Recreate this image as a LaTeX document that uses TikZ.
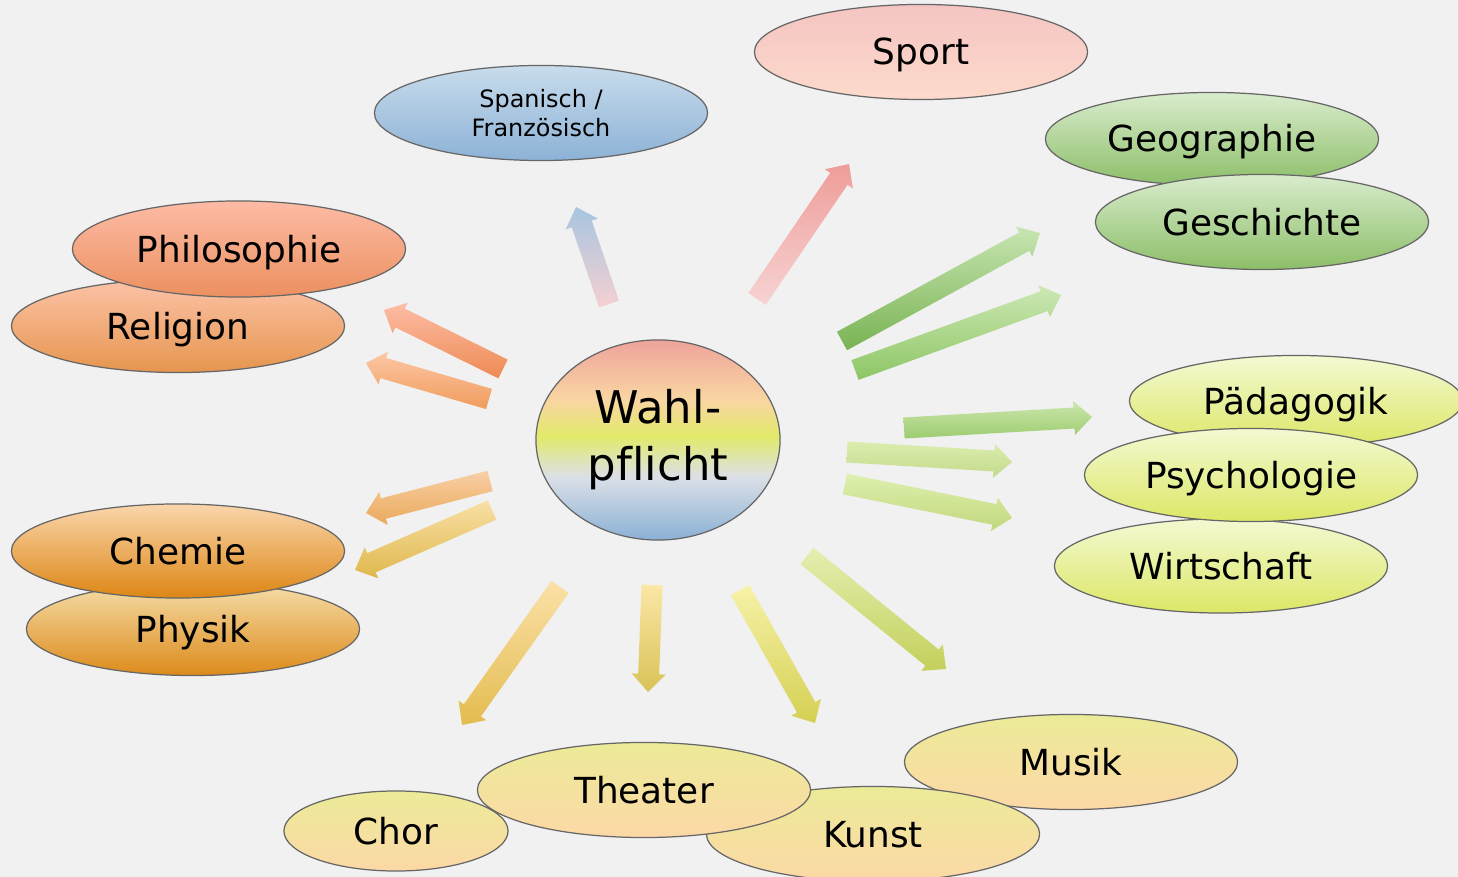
\documentclass[tikz,border=0pt]{standalone}
\usepackage{fontspec}
\setmainfont{DejaVu Sans}[Ligatures=NoCommon]
\usetikzlibrary{shapes.geometric,calc}
\definecolor{bg}{HTML}{F1F1F1}
\definecolor{wB}{HTML}{8AB1D6}
\definecolor{wL}{HTML}{DCE0E6}
\definecolor{wY}{HTML}{E2EA6A}
\definecolor{wP}{HTML}{F9D6A2}
\definecolor{wR}{HTML}{EEA39B}
\definecolor{spanT}{HTML}{C8DCEC}\definecolor{spanB}{HTML}{8DB2D6}
\definecolor{sportT}{HTML}{F5C4C2}\definecolor{sportB}{HTML}{FCDACB}
\definecolor{geoT}{HTML}{D9ECCD}\definecolor{geoB}{HTML}{8CBE68}
\definecolor{philT}{HTML}{FDBBA5}\definecolor{philB}{HTML}{EC9060}
\definecolor{relT}{HTML}{FCC3A8}\definecolor{relB}{HTML}{E6954E}
\definecolor{chemT}{HTML}{FAD6AC}\definecolor{chemB}{HTML}{DC8614}
\definecolor{physT}{HTML}{F6DEAA}\definecolor{physB}{HTML}{DC8A1A}
\definecolor{yelT}{HTML}{F4F9D2}\definecolor{yelB}{HTML}{DCE766}
\definecolor{musT}{HTML}{ECEB98}\definecolor{musB}{HTML}{FCD8A6}
\pgfdeclareverticalshading{wahlshade}{100bp}{color(0bp)=(wB); color(25bp)=(wB); color(41bp)=(wL); color(51bp)=(wY); color(60bp)=(wP); color(75bp)=(wR); color(100bp)=(wR)}
\newcommand{\blockarrow}[4]{%
  \definecolor{arT}{HTML}{#3}\definecolor{arB}{HTML}{#4}%
  \coordinate (#1h) at ($(#2)!0.18cm!(#1)$);
  \path[top color=arT,bottom color=arB]
    ($(#1)!0.105cm!90:(#2)$) -- ($(#1h)!0.105cm!90:(#2)$) -- ($(#1h)!0.17cm!90:(#2)$)
    -- (#2) -- ($(#1h)!0.17cm!-90:(#2)$) -- ($(#1h)!0.105cm!-90:(#2)$)
    -- ($(#1)!0.105cm!-90:(#2)$) -- cycle;}
\tikzset{
  ellbase/.style={ellipse, draw=black!60, line width=0.35pt, inner sep=0pt,
    minimum width=3.33cm, minimum height=0.94cm},
  ell/.style 2 args={ellbase, top color=#1, bottom color=#2,
    font=\fontsize{10.2}{12}\selectfont, text height=7.4pt, text depth=0pt},
}
\begin{document}
\begin{tikzpicture}[x=0.01cm,y=-0.01cm]
\useasboundingbox (0,0) rectangle (1458,877);
\clip (0,0) rectangle (1458,877);
\fill[bg] (0,0) rectangle (1458,877);

% arrow coordinates (tail / tip)
\coordinate (a1s) at (609,304);  \coordinate (a1e) at (576,207);
\coordinate (a2s) at (757,299);  \coordinate (a2e) at (849,164);
\coordinate (a3s) at (503,369);  \coordinate (a3e) at (384,310);
\coordinate (a4s) at (489,399);  \coordinate (a4e) at (366,363);
\coordinate (a5s) at (490,481);  \coordinate (a5e) at (366,513);
\coordinate (a6s) at (492,510);  \coordinate (a6e) at (355,570);
\coordinate (a7s) at (560,587);  \coordinate (a7e) at (462,725);
\coordinate (a8s) at (652,585);  \coordinate (a8e) at (648,692);
\coordinate (a9s) at (740,590);  \coordinate (a9e) at (815,723);
\coordinate (a10s) at (807,556); \coordinate (a10e) at (946,669);
\coordinate (a11s) at (845,484); \coordinate (a11e) at (1012,518);
\coordinate (a12s) at (847,452); \coordinate (a12e) at (1012,462);
\coordinate (a13s) at (904,428); \coordinate (a13e) at (1092,417);
\coordinate (a14s) at (855,370); \coordinate (a14e) at (1061,295);
\coordinate (a15s) at (842,341); \coordinate (a15e) at (1040,233);

\blockarrow{a1s}{a1e}{A7C5E0}{F5D0D2}
\blockarrow{a2s}{a2e}{EE9D99}{F7D3D3}
\blockarrow{a3s}{a3e}{FDBDA6}{EE8A52}
\blockarrow{a4s}{a4e}{FCC7A6}{F09C5C}
\blockarrow{a5s}{a5e}{F9CFA6}{E9A95A}
\blockarrow{a6s}{a6e}{F9E0A5}{DFB84C}
\blockarrow{a7s}{a7e}{FBE1A8}{E3BC4F}
\blockarrow{a8s}{a8e}{FBE7A6}{D9C256}
\blockarrow{a9s}{a9e}{F7F2A8}{D4D052}
\blockarrow{a10s}{a10e}{E5EEB0}{C3D05A}
\blockarrow{a11s}{a11e}{DEF0B0}{C1D77A}
\blockarrow{a12s}{a12e}{DBEDAF}{C4DA8C}
\blockarrow{a13s}{a13e}{CBE6AC}{9DCC70}
\blockarrow{a14s}{a14e}{CDE8B5}{8DC664}
\blockarrow{a15s}{a15e}{C8E5B2}{78B352}

% ellipses
\node[ellbase, top color=spanT, bottom color=spanB, minimum height=0.95cm,
  align=center, font=\fontsize{6.8}{8.2}\selectfont] (span) at (541,113) {Spanisch /\\Französisch};
\node[ell={sportT}{sportB}, minimum height=0.95cm] (sport) at (921,52) {Sport};
\node[ell={geoT}{geoB}, minimum height=0.93cm] (geo) at (1212,139) {Geographie};
\node[ell={geoT}{geoB}, minimum height=0.95cm] (gesch) at (1262,222) {Geschichte};
\node[ell={relT}{relB}, minimum height=0.93cm] (rel) at (178,326) {Religion};
\node[ell={philT}{philB}, minimum height=0.96cm] (phil) at (239,249) {Philosophie};
\node[ell={physT}{physB}, minimum height=0.93cm] (phys) at (193,629) {Physik};
\node[ell={chemT}{chemB}, minimum height=0.94cm] (chem) at (178,551) {Chemie};
\node[ell={yelT}{yelB}, minimum height=0.91cm] (paed) at (1296,401) {Pädagogik};
\node[ell={yelT}{yelB}, minimum height=0.94cm] (wirt) at (1221,566) {Wirtschaft};
\node[ell={yelT}{yelB}, minimum height=0.93cm] (psych) at (1251,475) {Psychologie};
\node[ell={musT}{musB}, minimum height=0.95cm] (musik) at (1071,762) {Musik};
\node[ell={musT}{musB}, minimum height=0.95cm] (kunst) at (873,834) {Kunst};
\node[ell={musT}{musB}, minimum width=2.24cm, minimum height=0.80cm] (chor) at (396,831) {Chor};
\node[ell={musT}{musB}, minimum height=0.95cm] (theater) at (644,790) {Theater};

\node[ellipse, draw=black!60, line width=0.35pt, shading=wahlshade, inner sep=0pt,
  minimum width=2.44cm, minimum height=2cm, align=center,
  font=\fontsize{12.8}{16.2}\selectfont] (wahl) at (658,440) {Wahl-\\pf\kern0pt licht};
\end{tikzpicture}
\end{document}
